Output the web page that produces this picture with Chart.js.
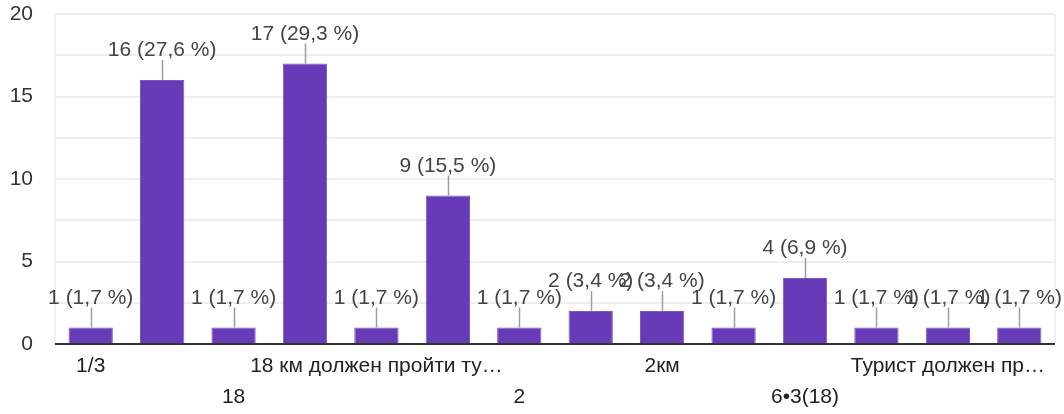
<!DOCTYPE html>
<html>
<head>
<meta charset="utf-8">
<script src="https://cdn.jsdelivr.net/npm/chart.js@4"></script>
<style>
html,body{margin:0;padding:0;background:#fff;}
#wrap{width:1064px;height:414px;position:relative;}
</style>
</head>
<body>
<div id="wrap"><canvas id="c" width="1064" height="414"></canvas></div>
<script>
const categories = [
  "1/3", "18 км", "18", "18км",
  "18 км должен пройти ту…", "18 км.", "2", "24",
  "2км", "3", "6•3(18)", "6",
  "Турист должен пр…", "Турист"
];
const counts = [1, 16, 1, 17, 1, 9, 1, 2, 2, 1, 4, 1, 1, 1];
const percents = ["1,7", "27,6", "1,7", "29,3", "1,7", "15,5", "1,7", "3,4", "3,4", "1,7", "6,9", "1,7", "1,7", "1,7"];
const yTicks = [0, 5, 10, 15, 20];

const FONT = "'Liberation Sans', Arial, sans-serif";

const labelPlugin = {
  id: 'barLabels',
  afterDatasetsDraw(chart) {
    const ctx = chart.ctx;
    const meta = chart.getDatasetMeta(0);
    ctx.save();
    ctx.font = "21px " + FONT;
    ctx.textAlign = 'center';
    ctx.textBaseline = 'alphabetic';
    meta.data.forEach((bar, i) => {
      const x = bar.x, top = bar.y;
      ctx.strokeStyle = '#9e9e9e';
      ctx.lineWidth = 1.5;
      ctx.beginPath();
      ctx.moveTo(Math.round(x) + 0.5, top);
      ctx.lineTo(Math.round(x) + 0.5, top - 20);
      ctx.stroke();
      ctx.fillStyle = '#444';
      ctx.fillText(counts[i] + " (" + percents[i] + " %)", x, top - 24);
    });
    ctx.restore();
  }
};

const framePlugin = {
  id: 'frame',
  beforeDatasetsDraw(chart) {
    const a = chart.chartArea, ctx = chart.ctx;
    ctx.save();
    ctx.strokeStyle = '#f0f0f0';
    ctx.lineWidth = 2;
    ctx.beginPath();
    ctx.moveTo(a.left, a.top); ctx.lineTo(a.left, a.bottom);
    ctx.moveTo(a.right, a.top); ctx.lineTo(a.right, a.bottom);
    ctx.stroke();
    ctx.restore();
  },
  afterDatasetsDraw(chart) {
    const a = chart.chartArea, ctx = chart.ctx;
    const y0 = chart.scales.y.getPixelForValue(0);
    ctx.save();
    ctx.strokeStyle = '#333';
    ctx.lineWidth = 2;
    ctx.beginPath();
    ctx.moveTo(a.left, y0); ctx.lineTo(a.right, y0);
    ctx.stroke();
    ctx.restore();
  }
};

new Chart(document.getElementById('c'), {
  type: 'bar',
  data: {
    labels: categories,
    datasets: [{
      data: counts,
      backgroundColor: '#673ab7',
      borderColor: '#7e57c2',
      borderWidth: 1,
      categoryPercentage: 1,
      barPercentage: 0.62
    }]
  },
  options: {
    responsive: false,
    animation: false,
    devicePixelRatio: 1,
    layout: { padding: { left: 0, right: 9, top: 0, bottom: 0 } },
    plugins: { legend: { display: false }, tooltip: { enabled: false } },
    scales: {
      x: {
        grid: { display: false, drawTicks: false },
        border: { display: false },
        ticks: {
          autoSkip: false,
          maxRotation: 0,
          minRotation: 0,
          padding: 7,
          color: '#222',
          font: { family: FONT, size: 21, lineHeight: 1.48 },
          callback: function(v, i) {
            if (i % 2 === 1) return '';
            const lab = categories[i];
            return (i % 4 === 0) ? lab : ['', lab];
          }
        },
        afterFit: function(s) { s.height = 70; s.paddingLeft = 0; s.paddingRight = 0; }
      },
      y: {
        min: 0,
        max: 20,
        grid: { color: '#eeeeee', lineWidth: 2, drawTicks: false },
        border: { display: false },
        ticks: {
          stepSize: 2.5,
          padding: 22,
          color: '#333',
          font: { family: FONT, size: 21 },
          callback: function(v) { return yTicks.includes(v) ? String(v) : ''; }
        },
        afterFit: function(s) { s.width = 55; s.paddingTop = 14; s.paddingBottom = 0; }
      }
    }
  },
  plugins: [framePlugin, labelPlugin]
});
</script>
</body>
</html>
